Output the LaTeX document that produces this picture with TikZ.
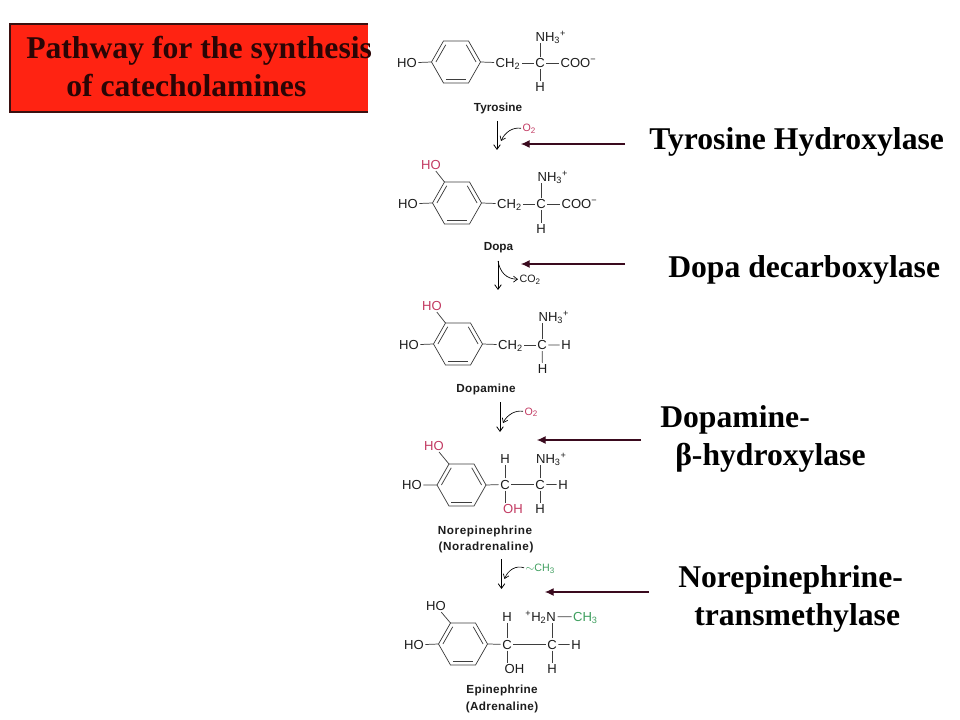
\documentclass[tikz,border=0pt]{standalone}
\usepackage{fontspec}
\setmainfont{Liberation Serif}
\setsansfont{Liberation Sans}
\usetikzlibrary{calc,arrows.meta}
\definecolor{boxred}{HTML}{FF2312}
\definecolor{boxline}{HTML}{3A1010}
\definecolor{titleink}{HTML}{2A0505}
\definecolor{enzarrow}{HTML}{3A0A1E}
\definecolor{oxred}{HTML}{C23A62}
\definecolor{methyl}{HTML}{3E9E5E}
\definecolor{inkgrey}{HTML}{1C1C1C}
\tikzset{
  bigtext/.style={font=\rmfamily\bfseries\fontsize{23.75}{26}\selectfont,anchor=base west,inner sep=0pt,text=black},
  atomlabel/.style={font=\sffamily\fontsize{9.8}{11}\selectfont,inner sep=1pt,text depth=0pt,anchor=base,text=inkgrey},
  smalllabel/.style={atomlabel,font=\sffamily\fontsize{8}{9}\selectfont,anchor=base west},
  namelabel/.style={font=\sffamily\bfseries\fontsize{8.8}{10}\selectfont,inner sep=0pt,text=inkgrey},
  widename/.style={namelabel,font=\sffamily\bfseries\fontsize{8.8}{10}\selectfont\addfontfeature{LetterSpace=5}},
  midname/.style={namelabel,font=\sffamily\bfseries\fontsize{8.8}{10}\selectfont\addfontfeature{LetterSpace=3}},
  bond/.style={draw=inkgrey!85,line width=0.55pt},
  stepflow/.style={draw=black,line width=0.6pt,-{Straight Barb[length=3.5pt,width=5pt]}},
  sideflow/.style={draw=black,line width=0.5pt,-{Straight Barb[length=3pt,width=4.5pt]}},
  enzymearrow/.style={draw=enzarrow,line width=0.8pt,-{Latex[length=6.5pt,width=6pt]}},
}
\newcommand{\benzene}[4]{%
  \coordinate (#1c) at (#2,#3);
  \coordinate (#11) at (#2+24.5,#3);
  \coordinate (#12) at (#2+12.5,#3-21);
  \coordinate (#13) at (#2-12.5,#3-21);
  \coordinate (#14) at (#2-24.5,#3);
  \coordinate (#15) at (#2-12.5,#3+21);
  \coordinate (#16) at (#2+12.5,#3+21);
  \draw[bond] (#11)--(#12)--(#13)--(#14)--(#15)--(#16)--cycle;
  \foreach \a/\b in {#4}{\draw[bond] ($(#1c)!.82!(#1\a)$) -- ($(#1c)!.82!(#1\b)$);}
}
\newcommand{\atm}[5][]{\node[atomlabel,#1] (#2) at (#3,#4) {#5};}
\begin{document}
\begin{tikzpicture}[x=0.75pt,y=-0.75pt]
\useasboundingbox (0,0) rectangle (960,720);
% title box
\fill[boxred] (10,24) rectangle (368,112);
\draw[boxline,line width=0.8pt] (368,24) -- (10,24) -- (10,112) -- (368,112);
\node[bigtext,text=titleink] (title1) at (26,59) {Pathway for the synthesis};
\node[bigtext,text=titleink] (title2) at (66,97) {of catecholamines};
% enzymes
\node[bigtext] (enz1) at (649,150) {Tyrosine Hydroxylase};
\node[bigtext] (enz2) at (668,277) {Dopa decarboxylase};
\node[bigtext] (enz3a) at (660,427) {Dopamine-};
\node[bigtext] (enz3b) at (675,465) {β-hydroxylase};
\node[bigtext] (enz4a) at (678,587) {Norepinephrine-};
\node[bigtext] (enz4b) at (694,625) {transmethylase};
% enzyme arrows
\coordinate (ea1s) at (625,144); \coordinate (ea1e) at (521,144);
\coordinate (ea2s) at (625,264); \coordinate (ea2e) at (521,264);
\coordinate (ea3s) at (641,440); \coordinate (ea3e) at (537,440);
\coordinate (ea4s) at (649,592); \coordinate (ea4e) at (545,592);
\foreach \k in {1,2,3,4}{\draw[enzymearrow] (ea\k s) -- (ea\k e);}
% ---- Tyrosine
\benzene{t}{456}{62}{2/1,3/4,5/6}
\atm{tho}{407}{67.5}{HO}
\atm{tch}{508}{67.5}{CH\textsubscript{2}}
\atm{tc}{540}{67.5}{C}
\atm[anchor=base west]{tn}{534}{41.5}{NH\textsubscript{3}\textsuperscript{+}}
\atm{th}{540}{92}{H}
\atm[anchor=base west]{tcoo}{559}{67.5}{COO\textsuperscript{−}}
\draw[bond] (tho) -- (t4);
\draw[bond] (t1) -- (tch);
\draw[bond] (tch) -- (tc);
\draw[bond] (tc) -- (tcoo);
\draw[bond] (tc) -- (tc |- tn.south);
\draw[bond] (tc) -- (th);
\node[namelabel] (tname) at (498,108.5) {Tyrosine};
% step 1
\coordinate (s1a) at (497,121); \coordinate (s1b) at (497,150);
\coordinate (s1c) at (501,141);
\draw[stepflow] (s1a) -- (s1b);
\node[smalllabel,text=oxred] (o1) at (521,132) {O\textsubscript{2}};
\draw[sideflow] (o1.west) .. controls (513,127) and (505,132) .. (s1c);
% ---- Dopa
\benzene{d}{457}{203}{2/1,3/4,5/6}
\atm[text=oxred]{dho1}{431}{169.5}{HO}
\atm{dho2}{408}{208.5}{HO}
\atm{dch}{509.5}{208.5}{CH\textsubscript{2}}
\atm{dc}{541}{208.5}{C}
\atm[anchor=base west]{dn}{536}{181.5}{NH\textsubscript{3}\textsuperscript{+}}
\atm{dh}{541}{233.5}{H}
\atm[anchor=base west]{dcoo}{560}{208.5}{COO\textsuperscript{−}}
\draw[bond] (dho2) -- (d4);
\draw[bond] (d3) -- (dho1);
\draw[bond] (d1) -- (dch);
\draw[bond] (dch) -- (dc);
\draw[bond] (dc) -- (dcoo);
\draw[bond] (dc) -- (dc |- dn.south);
\draw[bond] (dc) -- (dh);
\node[namelabel] (dname) at (498.5,248) {Dopa};
% step 2
\coordinate (s2a) at (498,261); \coordinate (s2b) at (498,290);
\draw[stepflow] (s2a) -- (s2b);
\node[smalllabel] (co2) at (518,283) {CO\textsubscript{2}};
\draw[sideflow] (s2a) .. controls (500,272) and (506,279) .. (co2.west);
% ---- Dopamine
\benzene{m}{458}{344}{2/1,3/4,5/6}
\atm[text=oxred]{mho1}{432}{310.5}{HO}
\atm{mho2}{409}{349.5}{HO}
\atm{mch}{510.5}{349.5}{CH\textsubscript{2}}
\atm{mc}{542}{349.5}{C}
\atm[anchor=base west]{mn}{537}{321.5}{NH\textsubscript{3}\textsuperscript{+}}
\atm{mh1}{566}{349.5}{H}
\atm{mh2}{542.5}{373.5}{H}
\draw[bond] (mho2) -- (m4);
\draw[bond] (m3) -- (mho1);
\draw[bond] (m1) -- (mch);
\draw[bond] (mch) -- (mc);
\draw[bond] (mc) -- (mh1);
\draw[bond] (mc) -- (mc |- mn.south);
\draw[bond] (mc) -- (mh2);
\node[midname] (mname) at (486,389) {Dopamine};
% step 3
\coordinate (s3a) at (500,402); \coordinate (s3b) at (500,432);
\coordinate (s3c) at (503,423);
\draw[stepflow] (s3a) -- (s3b);
\node[smalllabel,text=oxred] (o3) at (523,415) {O\textsubscript{2}};
\draw[sideflow] (o3.west) .. controls (515,410) and (507,415) .. (s3c);
% ---- Norepinephrine
\benzene{n}{461.5}{485}{2/1,3/4,5/6}
\atm[text=oxred]{nho1}{434}{450.5}{HO}
\atm{nho2}{412}{489.5}{HO}
\atm{nc1}{505}{489}{C}
\atm{nc2}{540}{489}{C}
\atm{nh1}{505}{463}{H}
\atm[anchor=base west]{nn}{534.5}{463}{NH\textsubscript{3}\textsuperscript{+}}
\atm{nh2}{563}{489}{H}
\atm{nh3}{540}{513.5}{H}
\atm[anchor=base west,text=oxred]{noh}{501.5}{513.5}{OH}
\draw[bond] (nho2) -- (n4);
\draw[bond] (n3) -- (nho1);
\draw[bond] (n1) -- (nc1);
\draw[bond] (nc1) -- (nc2);
\draw[bond] (nc2) -- (nh2);
\draw[bond] (nc1) -- (nh1);
\draw[bond] (nc1) -- (nc1 |- noh.north);
\draw[bond] (nc2) -- (nc2 |- nn.south);
\draw[bond] (nc2) -- (nh3);
\node[widename] (nname1) at (485,531) {Norepinephrine};
\node[widename] (nname2) at (486,547) {(Noradrenaline)};
% step 4
\coordinate (s4a) at (501.5,559); \coordinate (s4b) at (501.5,589);
\coordinate (s4c) at (504.5,579);
\draw[stepflow] (s4a) -- (s4b);
\node[smalllabel,text=methyl] (me) at (524,571.5) {$\sim$CH\textsubscript{3}};
\draw[sideflow] (me.west) .. controls (516,565) and (508,570) .. (s4c);
% ---- Epinephrine
\benzene{e}{463}{644}{2/1,3/4,5/6}
\atm{eho1}{436}{610.5}{HO}
\atm{eho2}{414}{649.5}{HO}
\atm{ec1}{507}{649}{C}
\atm{ec2}{552}{649}{C}
\atm{eh1}{507}{621.5}{H}
\atm[anchor=base east]{en}{557.5}{621.5}{\textsuperscript{+}H\textsubscript{2}N}
\atm[anchor=base west,text=methyl]{ech}{571.5}{621.5}{CH\textsubscript{3}}
\atm{eh2}{576}{649}{H}
\atm{eh3}{552}{673.5}{H}
\atm[anchor=base west]{eoh}{503}{673.5}{OH}
\draw[bond] (eho2) -- (e4);
\draw[bond] (e3) -- (eho1);
\draw[bond] (e1) -- (ec1);
\draw[bond] (ec1) -- (ec2);
\draw[bond] (ec2) -- (eh2);
\draw[bond] (ec1) -- (eh1);
\draw[bond] (ec1) -- (ec1 |- eoh.north);
\draw[bond] (ec2) -- (ec2 |- en.south);
\draw[bond] (ec2) -- (eh3);
\draw[bond] (en) -- (ech);
\node[midname] (ename1) at (502,690) {Epinephrine};
\node[midname] (ename2) at (502,707) {(Adrenaline)};
\end{tikzpicture}
\end{document}
